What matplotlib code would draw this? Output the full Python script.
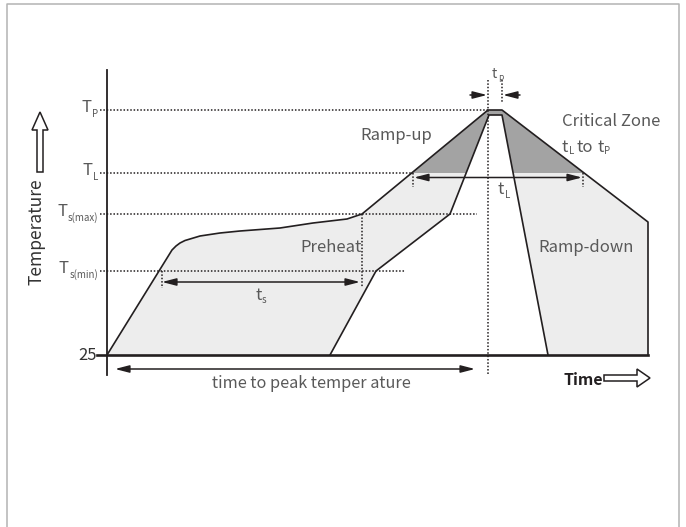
import matplotlib
matplotlib.use("Agg")
import matplotlib.pyplot as plt
from matplotlib.patches import Polygon, Rectangle, FancyArrow
import numpy as np

plt.rcParams['font.family'] = ['Noto Sans CJK SC', 'DejaVu Sans']

# ---- schematic data (time units, temperature units; baseline 25 = 0) ----
level_main = ['T', 'T', 'T', 'T']
level_sub = ['P', 'L', 's(max)', 's(min)']
level_values = [245, 182, 141, 84]
level_line_end = [381, 306, 370, 298]

outer_time = [0, 65, 69, 73, 78, 83, 93, 113, 133, 173, 206, 240, 255, 381, 395, 541, 541]
outer_temp = [0, 105, 109, 112, 114.5, 116, 119, 122, 124, 127, 132, 136, 141, 245, 245, 133, 0]

inner_time = [223, 269, 343, 382, 395, 441]
inner_temp = [0, 84, 141, 240, 240, 0]

t_peak_start, t_peak_end = 381, 395
ts_start, ts_end = 54, 255
tl_start, tl_end = 306, 476
time_to_peak_end = 368

OUT = '#231f20'
LIGHT = '#ededed'
DARK = '#a3a3a3'
TXT = '#595959'
FS = 12
SUB = 7

fig = plt.figure(figsize=(6.86, 5.27), dpi=100)
ax = fig.add_axes([0, 0, 1, 1])
ax.set_xlim(-107, 579)
ax.set_ylim(-172, 355)
ax.axis('off')

# frame
ax.plot([-100, -100, 572, 572], [-200, 351, 351, -200], color='#b3b3b3', lw=1.1,
        clip_on=False)

outer_xy = np.column_stack([outer_time, outer_temp])
inner_xy = np.column_stack([inner_time, inner_temp])
TL = level_values[1]

ax.add_patch(Polygon(outer_xy, closed=True, facecolor=LIGHT, edgecolor='none', zorder=1))
dark = Polygon(outer_xy, closed=True, facecolor=DARK, edgecolor='none', zorder=1.5)
ax.add_patch(dark)
clip = Rectangle((-107, TL), 700, 400, transform=ax.transData)
dark.set_clip_path(clip)
ax.add_patch(Polygon(inner_xy, closed=True, facecolor='white', edgecolor='none', zorder=2))

# profile lines
ax.plot(outer_time, outer_temp, color=OUT, lw=1.2, zorder=4, solid_joinstyle='round')
ax.plot(inner_time, inner_temp, color=OUT, lw=1.2, zorder=4)

# axes
ax.plot([-10, 541], [0, 0], color=OUT, lw=1.9, zorder=5)
ax.plot([0, 0], [-20, 285], color=OUT, lw=1.3, zorder=5)

dot = dict(color=OUT, lw=1.1, linestyle=(0, (1, 1.2)), zorder=3)
for v, e in zip(level_values, level_line_end):
    ax.plot([-7, e], [v, v], **dot)
ax.plot([ts_start + 1, ts_start + 1], [level_values[3], 67], **dot)
ax.plot([ts_end, ts_end], [level_values[2], 68], **dot)
ax.plot([tl_start, tl_start], [TL, 168], **dot)
ax.plot([tl_end, tl_end], [TL, 168], **dot)
ax.plot([t_peak_start, t_peak_start], [275, -20], **dot)
ax.plot([t_peak_end, t_peak_end], [275, 252], **dot)


def after(prev, s, fs, y, dx=0.3, color=TXT):
    """Text placed right after a previous text artist, baseline at data y."""
    return ax.annotate(s, xy=(1, y), xycoords=(prev, 'data'), xytext=(dx, 0),
                       textcoords='offset points', ha='left', va='baseline',
                       fontsize=fs, color=color, annotation_clip=False)


# level labels: subscript right-aligned at the axis, T placed before it
for m, s, v in zip(level_main, level_sub, level_values):
    st = ax.text(-9, v - 7, s, ha='right', va='baseline', fontsize=SUB, color=TXT)
    ax.annotate(m, xy=(0, v - 2), xycoords=(st, 'data'), xytext=(-0.3, 0),
                textcoords='offset points', ha='right', va='baseline',
                fontsize=FS, color=TXT, annotation_clip=False)
ax.text(-10, 0, '25', ha='right', va='center', fontsize=FS, color='#333333')

# arrows
def darrow(x0, x1, y, style):
    ax.annotate('', xy=(x1, y), xytext=(x0, y),
                arrowprops=dict(arrowstyle=style + ',head_length=0.85,head_width=0.22',
                                mutation_scale=10, color=OUT, lw=1.1,
                                shrinkA=0, shrinkB=0), zorder=6)

darrow(ts_start + 1, ts_end - 2, 73, '<|-|>')
darrow(tl_start + 1, tl_end - 1, 177.5, '<|-|>')
darrow(8, time_to_peak_end, -14, '<|-|>')
darrow(363, t_peak_start - 1, 260, '-|>')
darrow(413, t_peak_end + 1, 260, '-|>')

# hollow arrows
ax.add_patch(FancyArrow(-67, 183, 0, 60, width=6, head_width=16, head_length=18,
                        length_includes_head=True, facecolor='white', edgecolor=OUT,
                        lw=1.1, zorder=6))
ax.add_patch(FancyArrow(497, -23, 46, 0, width=6, head_width=18, head_length=13,
                        length_includes_head=True, facecolor='white', edgecolor=OUT,
                        lw=1.1, zorder=6))

# texts
ax.text(-71, 123, 'Temperature', rotation=90, ha='center', va='center',
        fontsize=12.5, color='#333333')
ax.text(253, 219, 'Ramp-up', ha='left', va='center', fontsize=FS, color=TXT)
ax.text(455, 233, 'Critical Zone', ha='left', va='center', fontsize=FS, color=TXT)

t1 = ax.text(455, 203, 't', ha='left', va='baseline', fontsize=FS, color=TXT)
s1 = after(t1, 'L', SUB, 200.5)
w1 = after(s1, 'to', FS, 203, dx=2)
t2 = after(w1, 't', FS, 203, dx=3)
after(t2, 'P', SUB, 200.5)

t3 = ax.text(391, 161, 't', ha='left', va='baseline', fontsize=FS, color=TXT)
after(t3, 'L', SUB, 157)
t4 = ax.text(148, 55, 't', ha='left', va='baseline', fontsize=FS, color=TXT)
after(t4, 's', SUB, 52)
t5 = ax.text(385, 277, 't', ha='left', va='baseline', fontsize=10, color=TXT)
after(t5, 'P', 6, 273)

ax.text(193, 107, 'Preheat', ha='left', va='center', fontsize=FS, color=TXT)
ax.text(431, 108, 'Ramp-down', ha='left', va='center', fontsize=FS, color=TXT)
ax.text(105, -28, 'time to peak temper ature', ha='left', va='center',
        fontsize=11.7, color=TXT)
ax.text(456, -25, 'Time', ha='left', va='center', fontsize=11.5, fontweight='bold',
        color=OUT)

fig.savefig('out.png', dpi=100)
